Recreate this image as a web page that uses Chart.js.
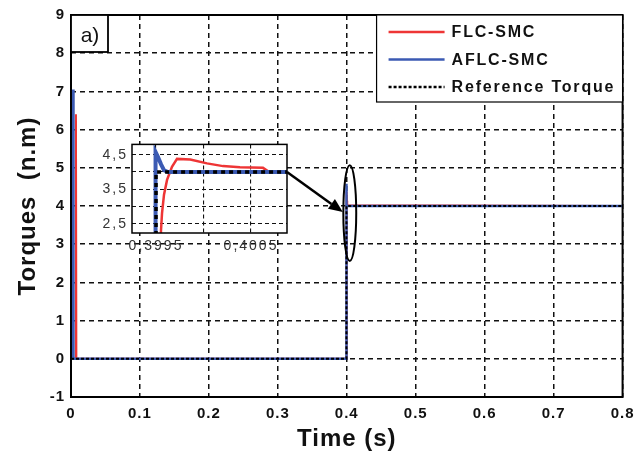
<!DOCTYPE html>
<html>
<head>
<meta charset="utf-8">
<script src="https://cdn.jsdelivr.net/npm/chart.js@4.4.1/dist/chart.umd.min.js"></script>
<style>
  html, body { margin: 0; padding: 0; background: #fff; }
  #wrap { position: relative; width: 641px; height: 460px; }
  #main { position: absolute; left: 0; top: 0; }
  #zoom { position: absolute; left: 95px; top: 132px; }
</style>
</head>
<body>
<div id="wrap">
  <canvas id="main" width="641" height="460"></canvas>
  <canvas id="zoom" width="200" height="125"></canvas>
</div>
<script>
// ---- torque responses (time in s, torque in N.m) ----
const flcTime = [0, 0.0066, 0.0072, 0.0078, 0.39952, 0.399553, 0.399563, 0.399584, 0.399616,
  0.399668, 0.399721, 0.39986, 0.400037, 0.400205, 0.400384, 0.400626, 0.40068, 0.8];
const flcTorque = [0, 0, 6.4, 0, 0, 2.34, 2.8, 3.34, 3.77,
  4.15, 4.38, 4.36, 4.25, 4.17, 4.14, 4.12, 4.02, 4.0];

const aflcTime = [0, 0.003, 0.0036, 0.39949, 0.399495, 0.399521, 0.399553, 0.399584, 0.399626, 0.8];
const aflcTorque = [0, 7.05, 0, 0, 4.58, 4.43, 4.22, 4.05, 4.0, 4.0];

const refTime = [0, 0.3995, 0.3995, 0.8];
const refTorque = [0, 0, 4, 4];

// main axes
const xTicks = [0, 0.1, 0.2, 0.3, 0.4, 0.5, 0.6, 0.7, 0.8];
const xTickLabels = ['0', '0.1', '0.2', '0.3', '0.4', '0.5', '0.6', '0.7', '0.8'];
const yTicks = [-1, 0, 1, 2, 3, 4, 5, 6, 7, 8, 9];
const yTickLabels = ['-1', '0', '1', '2', '3', '4', '5', '6', '7', '8', '9'];

// zoom window around the load step
const insetTicksX = [0.3995, 0.4, 0.4005];
const insetTickLabelsX = ['0,3995', '', '0,4005'];
const insetTicksY = [2.5, 3, 3.5, 4, 4.5];
const insetTickLabelsY = ['2,5', '', '3,5', '', '4,5'];

const FLC_COLOR = '#ee3535';
const AFLC_COLOR = '#3b5ab3';
const REF_COLOR = '#000';
const FONT = '"Liberation Sans", Arial, sans-serif';

const pts = (t, v) => t.map((x, i) => ({ x, y: v[i] }));

const gridOpts = (dash, width) => ({
  grid: { color: '#111', lineWidth: width, drawTicks: false },
  border: { display: false, dash: dash }
});

// ---- zoomed view ----
const insetBox = {
  id: 'insetBox',
  beforeDraw(chart) {
    const { ctx, chartArea: a } = chart;
    ctx.save();
    ctx.fillStyle = '#fff';
    ctx.fillRect(a.left, a.top, a.right - a.left, a.bottom - a.top);
    ctx.restore();
    ctx.letterSpacing = '2px';
  },
  afterDraw(chart) {
    const { ctx, chartArea: a } = chart;
    ctx.save();
    ctx.lineWidth = 1.5;
    ctx.strokeStyle = '#000';
    ctx.strokeRect(a.left, a.top, a.right - a.left, a.bottom - a.top);
    ctx.restore();
  }
};

const insetChart = new Chart(document.getElementById('zoom'), {
  type: 'line',
  data: {
    datasets: [
      { label: 'FLC-SMC', data: pts(flcTime, flcTorque), borderColor: FLC_COLOR, borderWidth: 2.5, order: 3 },
      { label: 'AFLC-SMC', data: pts(aflcTime, aflcTorque), borderColor: AFLC_COLOR, borderWidth: 4, order: 2 },
      { label: 'Reference Torque', data: pts(refTime, refTorque), borderColor: REF_COLOR, borderWidth: 3.5, borderDash: [4, 4], order: 1 }
    ]
  },
  options: {
    responsive: false,
    animation: false,
    devicePixelRatio: 1,
    elements: { point: { radius: 0 }, line: { tension: 0 } },
    layout: { padding: { top: 7, right: 8, left: 0, bottom: 0 } },
    plugins: { legend: { display: false }, tooltip: { enabled: false } },
    scales: {
      x: {
        type: 'linear',
        min: 0.399247,
        max: 0.400879,
        afterBuildTicks: s => { s.ticks = insetTicksX.map(v => ({ value: v })); },
        afterFit: s => { s.height = 24; },
        ticks: {
          autoSkip: false, maxRotation: 0, padding: 5, color: '#333',
          font: { family: FONT, size: 14 },
          callback: (v, i) => insetTickLabelsX[i]
        },
        ...gridOpts([4, 3], 1.1)
      },
      y: {
        min: 2.23,
        max: 4.8,
        afterBuildTicks: s => { s.ticks = insetTicksY.map(v => ({ value: v })); },
        afterFit: s => { s.width = 37; },
        ticks: {
          autoSkip: false, padding: 4, color: '#333',
          font: { family: FONT, size: 14 },
          callback: (v, i) => insetTickLabelsY[i]
        },
        ...gridOpts([4, 3], 1.1)
      }
    }
  },
  plugins: [insetBox]
});

// ---- main chart overlays: frame, tag, legend, zoom marker ----
const zoomMark = { t0: 0.395, t1: 0.4137, v0: 2.56, v1: 5.07 };
const arrowTip = { t: 0.3942, v: 3.84 };

const mainDecor = {
  id: 'mainDecor',
  beforeDraw(chart) {
    chart.ctx.letterSpacing = '1px';
  },
  afterDatasetsDraw(chart) {
    const { ctx, chartArea: a, scales: { x, y } } = chart;
    ctx.save();
    ctx.letterSpacing = '0px';

    // ellipse around the step
    const ex0 = x.getPixelForValue(zoomMark.t0), ex1 = x.getPixelForValue(zoomMark.t1);
    const ey0 = y.getPixelForValue(zoomMark.v1), ey1 = y.getPixelForValue(zoomMark.v0);
    ctx.lineWidth = 2;
    ctx.strokeStyle = '#000';
    ctx.beginPath();
    ctx.ellipse((ex0 + ex1) / 2, (ey0 + ey1) / 2, (ex1 - ex0) / 2, (ey1 - ey0) / 2, 0, 0, Math.PI * 2);
    ctx.stroke();

    // arrow from the zoom window to the ellipse
    const zc = insetChart.canvas;
    const sx = zc.offsetLeft + insetChart.chartArea.right;
    const sy = zc.offsetTop + insetChart.scales.y.getPixelForValue(4);
    const tx = x.getPixelForValue(arrowTip.t), ty = y.getPixelForValue(arrowTip.v);
    const ang = Math.atan2(ty - sy, tx - sx);
    const hl = 14, hw = 6;
    const bx = tx - hl * Math.cos(ang), by = ty - hl * Math.sin(ang);
    ctx.lineWidth = 2.5;
    ctx.beginPath();
    ctx.moveTo(sx, sy);
    ctx.lineTo(bx, by);
    ctx.stroke();
    ctx.fillStyle = '#000';
    ctx.beginPath();
    ctx.moveTo(tx, ty);
    ctx.lineTo(bx + hw * Math.sin(ang), by - hw * Math.cos(ang));
    ctx.lineTo(bx - hw * Math.sin(ang), by + hw * Math.cos(ang));
    ctx.closePath();
    ctx.fill();

    // plot frame
    ctx.lineWidth = 2;
    ctx.strokeRect(a.left, a.top, a.right - a.left, a.bottom - a.top);

    // "a)" tag
    ctx.fillStyle = '#fff';
    ctx.fillRect(a.left, a.top, 37, 37);
    ctx.lineWidth = 1.8;
    ctx.strokeRect(a.left, a.top, 37, 37);
    ctx.fillStyle = '#111';
    ctx.font = '21px ' + FONT;
    ctx.textAlign = 'center';
    ctx.textBaseline = 'middle';
    ctx.fillText('a)', a.left + 19, a.top + 21);

    // legend
    const lw = 246, lh = 87;
    const lx = a.right - lw, ly = a.top;
    ctx.fillStyle = '#fff';
    ctx.fillRect(lx, ly, lw, lh);
    ctx.lineWidth = 1.2;
    ctx.strokeRect(lx, ly, lw, lh);
    ctx.font = 'bold 16px ' + FONT;
    ctx.textAlign = 'left';
    ctx.letterSpacing = '1.8px';
    chart.data.datasets.forEach((ds, i) => {
      const rowY = ly + 17 + i * 27.5;
      ctx.save();
      ctx.strokeStyle = ds.borderColor;
      ctx.lineWidth = 2.5;
      ctx.setLineDash(ds.borderDash || []);
      ctx.beginPath();
      ctx.moveTo(lx + 12, rowY);
      ctx.lineTo(lx + 68, rowY);
      ctx.stroke();
      ctx.restore();
      ctx.fillStyle = '#111';
      ctx.fillText(ds.label, lx + 75, rowY + 1);
    });
    ctx.restore();
  }
};

const tickFont = { family: FONT, size: 15, weight: 'bold' };
const titleFont = { family: FONT, size: 24, weight: 'bold' };

new Chart(document.getElementById('main'), {
  type: 'line',
  data: {
    datasets: [
      { label: 'FLC-SMC', data: pts(flcTime, flcTorque), borderColor: FLC_COLOR, borderWidth: 2, order: 3 },
      { label: 'AFLC-SMC', data: pts(aflcTime, aflcTorque), borderColor: AFLC_COLOR, borderWidth: 2.5, order: 2 },
      { label: 'Reference Torque', data: pts(refTime, refTorque), borderColor: REF_COLOR, borderWidth: 2, borderDash: [3, 2], order: 1 }
    ]
  },
  options: {
    responsive: false,
    animation: false,
    devicePixelRatio: 1,
    elements: { point: { radius: 0 }, line: { tension: 0 } },
    layout: { padding: { top: 15, right: 14, left: 0, bottom: 0 } },
    plugins: { legend: { display: false }, tooltip: { enabled: false } },
    scales: {
      x: {
        type: 'linear',
        min: 0,
        max: 0.8,
        afterBuildTicks: s => { s.ticks = xTicks.map(v => ({ value: v })); },
        afterFit: s => { s.height = 63; },
        ticks: {
          autoSkip: false, maxRotation: 0, padding: 8, color: '#111', font: tickFont,
          callback: (v, i) => xTickLabels[i]
        },
        title: { display: true, text: 'Time (s)', color: '#111', font: titleFont, padding: { top: 0, bottom: 6 } },
        ...gridOpts([5, 4], 1.5)
      },
      y: {
        min: -1,
        max: 9,
        afterBuildTicks: s => { s.ticks = yTicks.map(v => ({ value: v })); },
        afterFit: s => { s.width = 71; },
        ticks: {
          autoSkip: false, padding: 6, color: '#111', font: tickFont,
          callback: (v, i) => yTickLabels[i]
        },
        title: { display: true, text: 'Torques  (n.m)', color: '#111', font: titleFont, padding: { top: 14, bottom: 0 } },
        ...gridOpts([5, 4], 1.5)
      }
    }
  },
  plugins: [mainDecor]
});
</script>
</body>
</html>
